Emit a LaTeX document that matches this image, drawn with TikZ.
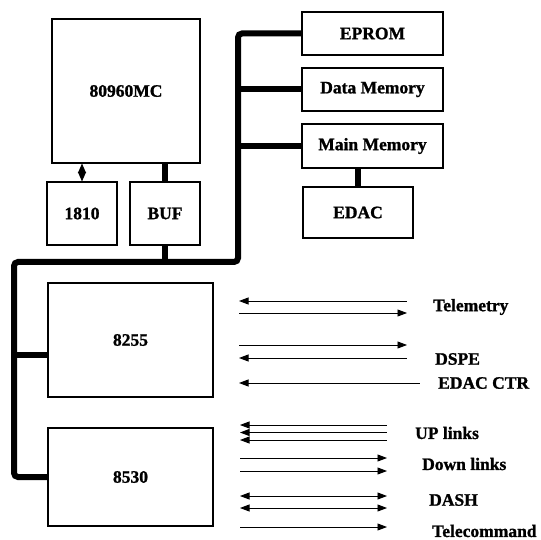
\documentclass[tikz,border=0pt]{standalone}
\usepackage{fontspec}
\setmainfont{Liberation Serif}[BoldFeatures={FakeBold=1.2}]
\usetikzlibrary{arrows.meta}

\begin{document}
\begin{tikzpicture}[x=1pt, y=-1pt, >={Triangle[length=9.5pt,width=7pt]},
        blk/.style={draw, line width=1.1pt, inner sep=0pt, font=\fontsize{17.5}{20}\selectfont\bfseries},
        bus/.style={line width=6pt, rounded corners=4pt},
        sig/.style={line width=0.9pt},
        lbl/.style={anchor=west, inner sep=0pt, font=\fontsize{17.5}{20}\selectfont\bfseries}]
        % Frame
        \useasboundingbox (0,0) rectangle (541,540);

        % Processor side
        \node[blk, minimum width=148pt, minimum height=144pt] (cpu) at (126,91) {80960MC};
        \node[blk, minimum width=70pt, minimum height=63pt] (io) at (82,213.5) {1810};
        \node[blk, minimum width=70pt, minimum height=63pt] (buf) at (165,213.5) {BUF};

        % Memories
        \node[blk, minimum width=141pt, minimum height=43pt] (eprom) at (372.5,33.5) {EPROM};
        \node[blk, minimum width=141pt, minimum height=43pt] (datamem) at (372.5,89.5) {Data Memory};
        \node[blk, minimum width=141pt, minimum height=44pt] (mainmem) at (372.5,146) {Main Memory};
        \node[blk, minimum width=110pt, minimum height=51pt] (edac) at (358,212.5) {EDAC};

        % Peripherals
        \node[blk, minimum width=165pt, minimum height=114pt] (ppi) at (130.5,340) {8255};
        \node[blk, minimum width=165pt, minimum height=98pt] (scc) at (130.5,477) {8530};

        % Local links
        \draw[line width=1pt, {Triangle[length=9.5pt,width=8pt]}-{Triangle[length=9.5pt,width=8pt]}]
            (io.north |- cpu.south) -- (io.north);
        \draw[line width=6pt] (buf.north |- cpu.south) -- (buf.north);
        \draw[line width=6pt] (mainmem.south -| edac.north) -- (edac.north);

        % System bus
        \coordinate (busL) at (14,262);
        \coordinate (busR) at (238,262);
        \coordinate (ppiT) at ([yshift=-15pt]ppi.west);
        \draw[bus] (scc.west) -| (busL) -- (busR) |- (eprom.west);
        \draw[bus] (busR |- datamem.west) -- (datamem.west);
        \draw[bus] (busR |- mainmem.west) -- (mainmem.west);
        \draw[bus] (buf.south) -- (buf.south |- busL);
        \draw[bus] (busL |- ppiT) -- (ppiT);

        % Telemetry
        \draw[sig, <-] (239,301) -- (407,301);
        \draw[sig, ->] (239,313) -- (407,313);
        \node[lbl] (tm) at (433,307) {Telemetry};

        % DSPE
        \draw[sig, ->] (239,345) -- (407,345);
        \draw[sig, <-] (239,358) -- (407,358);
        \node[lbl] (dspe) at (435,359) {DSPE};

        % EDAC CTR
        \draw[sig, <-] (239,383) -- (420,383);
        \node[lbl] (ectr) at (438,383) {EDAC CTR};

        % UP links
        \draw[sig, <-] (240,425) -- (387,425);
        \draw[sig, <-] (240,432.5) -- (387,432.5);
        \draw[sig, <-] (240,440) -- (387,440);
        \node[lbl] (up) at (415,433) {UP links};

        % Down links
        \draw[sig, ->] (240,458) -- (387,458);
        \draw[sig, ->] (240,471) -- (387,471);
        \node[lbl] (down) at (422,464) {Down links};

        % DASH
        \draw[sig, <->] (240,496) -- (387,496);
        \draw[sig, <->] (240,508) -- (387,508);
        \node[lbl] (dash) at (429,500) {DASH};

        % Telecommand
        \draw[sig, ->] (240,527) -- (387,527);
        \node[lbl] (tc) at (432,531) {Telecommand};
    \end{tikzpicture}
\end{document}
